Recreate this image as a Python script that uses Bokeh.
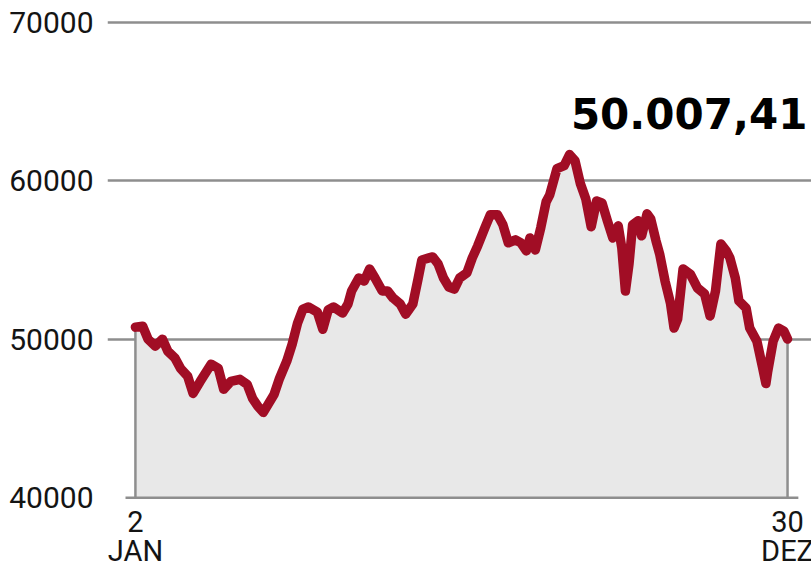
from bokeh.plotting import figure
from bokeh.models import Range1d, FixedTicker, Label, ColumnDataSource
from bokeh.core.properties import value
from bokeh.embed import file_html
from bokeh.resources import INLINE

# ---- data ----
days = [2, 6, 9, 13, 17, 20, 24, 27, 31, 34,
        38, 44, 48, 51, 55, 60, 64, 67, 70, 73,
        75, 79, 82, 86, 89, 92, 95, 98, 103, 106,
        109, 112, 117, 120, 122, 126, 129, 132, 135, 139,
        142, 145, 149, 152, 156, 159, 161, 165, 167, 170,
        173, 176, 179, 182, 186, 189, 192, 196, 199, 203,
        206, 209, 213, 216, 219, 221, 224, 227, 230, 232,
        236, 240, 243, 246, 249, 252, 255, 258, 261, 264,
        267, 270, 272, 274, 276, 278, 281, 283, 286, 288,
        291, 293, 296, 299, 301, 303, 306, 310, 314, 318,
        321, 324, 327, 330, 332, 335, 337, 341, 343, 347,
        350, 352, 353, 356, 359, 362, 364]
values = [50760, 50820, 50000, 49560, 50000, 49240, 48800, 48160, 47660, 46580,
          47340, 48420, 48160, 46840, 47340, 47470, 47150, 46270, 45760, 45380,
          45760, 46520, 47530, 48610, 49680, 51010, 51900, 52030, 51710, 50630,
          51840, 52030, 51650, 52220, 53040, 53860, 53670, 54430, 53860, 53040,
          53040, 52600, 52220, 51580, 52220, 53860, 55000, 55130, 55190, 54750,
          53860, 53290, 53160, 53860, 54180, 55130, 55890, 57030, 57850, 57850,
          57220, 56080, 56270, 56080, 55570, 56390, 55630, 57030, 58670, 59110,
          60760, 60950, 61650, 61270, 59810, 58860, 57090, 58720, 58600, 57470,
          56390, 57150, 55760, 53040, 54750, 57220, 57470, 56520, 57910, 57600,
          56200, 55380, 53670, 52280, 50700, 51270, 54430, 54110, 53230, 52850,
          51460, 53040, 56010, 55570, 55130, 53860, 52410, 51960, 50700, 49870,
          48290, 47200, 47970, 49870, 50700, 50510, 50007.41]
assert len(days) == len(values)

y_ticks = [40000, 50000, 60000, 70000]
y_tick_labels = ["40000", "50000", "60000", "70000"]
x_tick_days = [days[0], days[-1]]
x_tick_nums = ["2", "30"]
x_tick_months = ["JAN", "DEZ"]

base = y_ticks[0]
LINE = "#a10d25"
GRID = "#8e8e8e"
TXT = "#141414"

# frame reaches the bottom of the canvas so the date labels can sit below the baseline
p = figure(width=811, height=564, output_backend="svg", toolbar_location=None,
           x_range=Range1d(-13.5, 377.3), y_range=Range1d(35780, 70300),
           x_axis_location=None, min_border_left=107, min_border_right=0,
           min_border_top=17, min_border_bottom=0)
p.outline_line_color = None
p.background_fill_color = "white"
p.border_fill_color = "white"
p.xgrid.visible = False

# y axis
ax = p.yaxis[0]
ax.ticker = FixedTicker(ticks=y_ticks)
ax.major_label_overrides = {t: l for t, l in zip(y_ticks, y_tick_labels)}
ax.axis_line_color = None
ax.major_tick_line_color = None
ax.minor_tick_line_color = None
ax.major_tick_out = 0
ax.major_tick_in = 0
ax.major_label_standoff = 14
ax.major_label_text_font = "Roboto"
ax.major_label_text_font_size = "30px"
ax.major_label_text_color = TXT

p.ygrid.ticker = FixedTicker(ticks=y_ticks[1:])
p.ygrid.grid_line_color = GRID
p.ygrid.grid_line_width = 2.5

src = ColumnDataSource(dict(x=days, y=values))

# area under the line
p.varea(x="x", y1=base, y2="y", source=src, fill_color="#e8e8e8")

# baseline at 40000
p.segment(x0=[days[0] - 5.5], y0=[base], x1=[days[-1] + 6], y1=[base],
          line_color=GRID, line_width=2.5)
# vertical lines at first and last day
p.segment(x0=[days[0], days[-1]], y0=[base, base], x1=[days[0], days[-1]],
          y1=[values[0], values[-1]], line_color=GRID, line_width=2.5)

# price line
p.line(x="x", y="y", source=src, line_color=LINE, line_width=9.5,
       line_join="round", line_cap="round")

# x labels (first / last day), below the baseline
p.text(x=x_tick_days, y=[base] * 2, text=x_tick_nums, y_offset=24,
       text_align="center", text_baseline="alphabetic",
       text_font=value("Roboto"), text_font_size="29px", text_color=TXT)
p.text(x=x_tick_days, y=[base] * 2, text=x_tick_months, y_offset=53,
       text_align="center", text_baseline="alphabetic",
       text_font=value("Roboto"), text_font_size="29px", text_color=TXT)

# annotation with last value (German formatting)
last = values[-1]
last_txt = f"{last:,.2f}".replace(",", "X").replace(".", ",").replace("X", ".")
p.add_layout(Label(x=days[-1] + 11, y=64250, text=last_txt, text_align="right",
                   text_baseline="alphabetic", text_font="DejaVu Sans",
                   text_font_style="bold", text_font_size="42px", text_color="black"))

open("out.html", "w").write(file_html(p, INLINE))
